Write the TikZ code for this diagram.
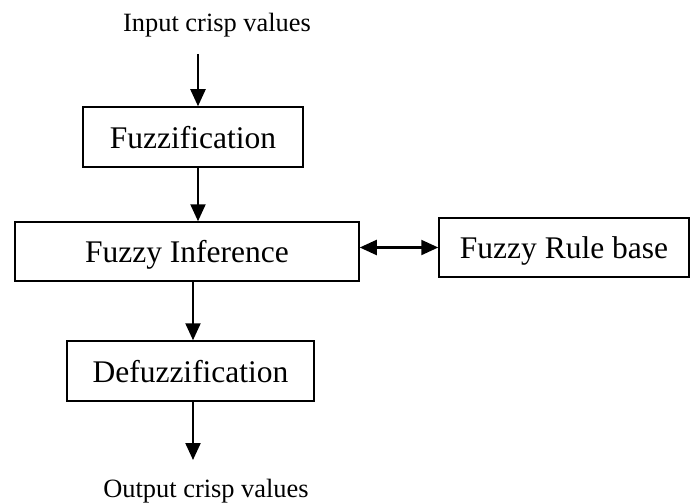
\documentclass[tikz,border=0pt]{standalone}
\usepackage{fontspec}
\setmainfont{Liberation Serif}
\usetikzlibrary{arrows.meta}

\begin{document}
\begin{tikzpicture}[x=1pt,y=1pt,yscale=-1,xscale=1,
  block/.style={draw,line width=1.5pt,inner sep=0pt,text depth=0pt,font=\fontsize{31.5}{36}\selectfont},
  flow/.style={line width=2.2pt,-{Triangle[length=17pt,width=15pt]}},
  label/.style={inner sep=0pt,text depth=0pt,font=\fontsize{26.4}{30}\selectfont}]
\useasboundingbox (0,0) rectangle (691,503);

% Blocks
\node [block,minimum width=220pt,minimum height=60pt] (fuzz) at (193,137) {Fuzzification};
\node [block,minimum width=344pt,minimum height=59pt] (infer) at (187,251.5) {Fuzzy Inference};
\node [block,minimum width=250pt,minimum height=59pt] (rule) at (564,247.5) {Fuzzy Rule base};
\node [block,minimum width=247pt,minimum height=60pt] (defuzz) at (190.5,371) {Defuzzification};

% Text Node
\node [label] (input) at (217,22) {Input crisp values};
% Text Node
\node [label] (output) at (206,488.5) {Output crisp values};

% Arrow ends
\coordinate (inend) at (198,54);
\coordinate (outend) at (193,460);

% Arrows
\draw [flow] (inend) -- (inend |- fuzz.north);
\draw [flow] (fuzz.south -| inend) -- (infer.north -| inend);
\draw [flow] (infer.south -| outend) -- (defuzz.north -| outend);
\draw [flow] (defuzz.south -| outend) -- (outend);
\draw [flow,{Triangle[length=17pt,width=15pt]}-{Triangle[length=17pt,width=15pt]}] (infer.east |- rule.west) -- (rule.west);
\end{tikzpicture}
\end{document}
